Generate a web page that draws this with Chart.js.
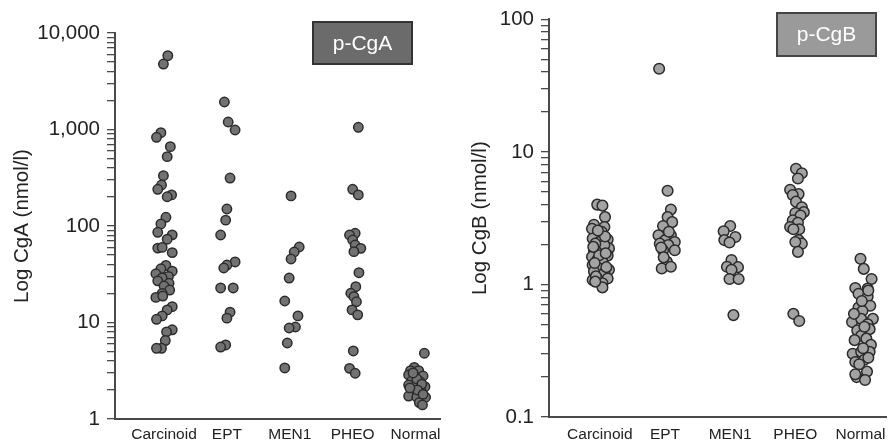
<!DOCTYPE html>
<html>
<head>
<meta charset="utf-8">
<script src="https://cdn.jsdelivr.net/npm/chart.js@4.4.0/dist/chart.umd.min.js"></script>
<style>
  html, body { margin: 0; padding: 0; background: #fff; }
  #wrap { position: relative; width: 894px; height: 446px; }
  .panel { position: absolute; top: 0; width: 447px; height: 446px; }
  #pA { left: 0; }
  #pB { left: 447px; }
</style>
</head>
<body>
<div id="wrap">
  <div class="panel" id="pA"><canvas id="cA" width="447" height="446"></canvas></div>
  <div class="panel" id="pB"><canvas id="cB" width="447" height="446"></canvas></div>
</div>
<script>
// ---------- categories & tick labels ----------
const categories = ['Carcinoid', 'EPT', 'MEN1', 'PHEO', 'Normal'];
const cgaTickValues = [1, 10, 100, 1000, 10000];
const cgaTickLabels = ['1', '10', '100', '1,000', '10,000'];
const cgbTickValues = [0.1, 1, 10, 100];
const cgbTickLabels = ['0.1', '1', '10', '100'];

// ---------- p-CgA (nmol/l) values and horizontal jitter (in category units) ----------
const cgaCarcinoid = [5820, 4770, 927, 830, 664, 523, 332, 266, 240, 210, 201, 123, 105, 86, 81, 73, 59, 60, 53, 39, 36, 34, 32, 30, 29, 27, 25.5, 23.9, 21.7, 20, 18.2, 18.8, 14.6, 13.5, 11.7, 10.8, 8.4, 8.0, 6.5, 5.4, 5.4];
const cgaCarcinoidJitter = [0.06, -0.01, -0.05, -0.12, 0.10, 0.05, -0.01, -0.04, -0.10, 0.12, 0.05, 0.03, -0.05, -0.10, 0.13, 0.05, -0.10, -0.03, 0.13, 0.03, -0.05, 0.13, -0.13, 0.07, -0.03, -0.10, 0.08, 0.00, 0.09, -0.03, -0.13, -0.02, 0.13, 0.05, -0.03, -0.12, 0.13, 0.04, 0.02, -0.04, -0.12];
const cgaEPT = [1928, 1196, 988, 314, 150, 115, 80.7, 42.4, 39.4, 36.7, 22.8, 22.8, 12.8, 11.1, 5.85, 5.57];
const cgaEPTJitter = [-0.04, 0.02, 0.13, 0.05, 0.00, -0.02, -0.10, 0.13, 0.00, -0.05, -0.10, 0.10, 0.05, 0.00, -0.02, -0.10];
const cgaMEN1 = [205, 60.6, 53.8, 45.5, 28.9, 16.7, 11.7, 8.98, 8.77, 6.13, 3.38];
const cgaMEN1Jitter = [0.02, 0.15, 0.07, 0.02, -0.01, -0.08, 0.13, 0.09, -0.01, -0.04, -0.08];
const cgaPHEO = [1054, 240, 210, 84, 80.7, 71.6, 63.5, 58.7, 54.2, 32.8, 23.5, 20.1, 18.5, 16.4, 13.5, 12.0, 5.07, 3.35, 2.98];
const cgaPHEOJitter = [0.09, 0.00, 0.09, 0.04, -0.05, 0.00, 0.04, 0.13, 0.02, 0.10, 0.05, -0.03, 0.02, 0.06, -0.01, 0.08, 0.01, -0.05, 0.04];
const cgaNormal = [4.8, 3.43, 3.17, 3.17, 2.86, 2.74, 2.79, 2.49, 2.44, 2.25, 2.16, 2.16, 1.96, 1.92, 1.73, 1.68, 1.68, 1.48, 1.40, 2.6, 2.3, 2.0, 1.8, 3.0, 2.1];
const cgaNormalJitter = [0.14, -0.02, -0.08, 0.05, -0.11, 0.00, 0.12, -0.06, 0.07, -0.11, 0.00, 0.15, -0.07, 0.09, -0.11, 0.02, 0.16, 0.06, 0.11, 0.02, 0.10, 0.03, 0.12, -0.04, -0.09];

// ---------- p-CgB (nmol/l) values and jitter ----------
const cgbCarcinoid = [4.0, 3.93, 3.22, 2.82, 2.63, 2.71, 2.49, 2.22, 2.18, 2.09, 1.87, 1.81, 1.76, 1.62, 1.65, 1.53, 1.48, 1.40, 1.32, 1.29, 1.25, 1.22, 1.11, 1.11, 1.02, 0.95, 1.08, 1.66, 1.98, 2.03, 1.15, 1.35, 1.45, 1.72, 1.92, 2.3, 2.55, 1.05];
const cgbCarcinoidJitter = [-0.04, 0.04, 0.08, -0.09, -0.12, 0.07, 0.03, -0.11, 0.12, -0.01, 0.14, -0.09, 0.04, -0.12, 0.12, -0.04, 0.04, -0.11, -0.01, 0.14, -0.09, 0.07, -0.04, 0.12, 0.04, 0.04, -0.11, -0.01, 0.07, -0.07, -0.06, 0.10, -0.08, 0.09, -0.10, 0.08, -0.03, -0.07];
const cgbEPT = [42.4, 5.09, 3.67, 3.22, 2.95, 2.76, 2.35, 2.35, 2.15, 2.09, 2.03, 1.98, 1.81, 1.81, 1.48, 1.32, 1.36, 2.5, 1.9, 1.6];
const cgbEPTJitter = [-0.09, 0.04, 0.09, 0.04, 0.11, -0.03, -0.10, 0.09, 0.00, 0.15, -0.08, 0.05, 0.15, -0.03, 0.03, -0.05, 0.09, 0.06, -0.06, -0.02];
const cgbMEN1 = [2.76, 2.52, 2.28, 2.16, 2.07, 1.53, 1.36, 1.35, 1.29, 1.10, 1.10, 0.587];
const cgbMEN1Jitter = [0.00, -0.10, 0.08, -0.09, -0.01, 0.02, -0.05, 0.12, 0.02, -0.01, 0.13, 0.05];
const cgbPHEO = [7.46, 6.89, 6.29, 5.18, 4.80, 4.72, 4.21, 3.82, 3.51, 3.46, 3.31, 3.04, 2.92, 2.71, 2.61, 2.61, 2.16, 2.03, 2.09, 1.76, 0.60, 0.53];
const cgbPHEOJitter = [0.01, 0.10, 0.04, -0.08, 0.05, -0.04, 0.01, 0.10, 0.13, 0.00, 0.08, -0.04, 0.04, -0.08, 0.06, -0.03, 0.05, 0.10, 0.00, 0.04, -0.03, 0.06];
const cgbNormal = [1.56, 1.31, 1.10, 0.94, 0.93, 0.85, 0.81, 0.69, 0.67, 0.63, 0.52, 0.55, 0.55, 0.50, 0.45, 0.46, 0.41, 0.38, 0.39, 0.35, 0.30, 0.31, 0.31, 0.26, 0.27, 0.25, 0.22, 0.20, 0.19, 0.90, 0.75, 0.60, 0.48, 0.33, 0.28, 0.21];
const cgbNormalJitter = [0.00, 0.05, 0.17, -0.08, 0.11, -0.03, 0.11, 0.15, -0.03, 0.03, -0.13, 0.01, 0.19, 0.11, -0.05, 0.14, 0.01, -0.09, 0.09, 0.16, -0.12, 0.01, 0.14, -0.08, 0.06, -0.02, 0.10, -0.06, 0.07, 0.12, 0.02, -0.10, 0.06, 0.04, 0.12, -0.08];

// ---------- helpers ----------
Chart.defaults.font.family = '"Liberation Sans", Arial, Helvetica, sans-serif';
Chart.defaults.color = '#222';

function pts(vals, jit, idx) {
  return vals.map((v, i) => ({ x: idx + jit[i], y: v }));
}
function logTicks(majors) {
  const out = [];
  for (let k = 0; k < majors.length; k++) {
    out.push({ value: majors[k], major: true });
    if (k < majors.length - 1) {
      for (let m = 2; m <= 9; m++) out.push({ value: +(majors[k] * m).toPrecision(6), major: false });
    }
  }
  return out;
}

const boxPlugin = {
  id: 'labelBox',
  afterDraw(chart, args, o) {
    const ctx = chart.ctx;
    ctx.save();
    ctx.fillStyle = o.fill;
    ctx.fillRect(o.x, o.y, o.w, o.h);
    ctx.strokeStyle = o.stroke;
    ctx.lineWidth = 2;
    ctx.strokeRect(o.x, o.y, o.w, o.h);
    ctx.fillStyle = '#fff';
    ctx.font = '21px "Liberation Sans", Arial, sans-serif';
    ctx.textAlign = 'center';
    ctx.textBaseline = 'middle';
    ctx.fillText(o.text, o.x + o.w / 2, o.y + o.h / 2 + 1);
    ctx.restore();
  }
};

function makeChart(canvasId, cfg) {
  const datasets = cfg.series.map((s, i) => ({
    label: categories[i],
    data: pts(s[0], s[1], i),
    backgroundColor: cfg.fill,
    borderColor: '#2b2b2b',
    borderWidth: 1.5,
    pointRadius: cfg.radius,
    pointHoverRadius: cfg.radius
  }));
  return new Chart(document.getElementById(canvasId), {
    type: 'scatter',
    data: { datasets },
    plugins: [boxPlugin],
    options: {
      responsive: false,
      animation: false,
      devicePixelRatio: 1,
      layout: { padding: { top: cfg.top, right: 0, bottom: 0, left: 0 } },
      plugins: {
        legend: { display: false },
        tooltip: { enabled: false },
        labelBox: cfg.box
      },
      scales: {
        x: {
          type: 'linear',
          min: -0.78,
          max: 4.4,
          grid: { display: false, drawTicks: false },
          border: { display: true, color: '#4a4a4a', width: 2 },
          afterBuildTicks: (s) => { s.ticks = categories.map((c, i) => ({ value: i })); },
          afterFit: (s) => { s.height = cfg.xHeight; },
          ticks: {
            autoSkip: false,
            maxRotation: 0,
            padding: cfg.xPad,
            color: '#222',
            font: { size: 15.5 },
            callback: (v) => categories[Math.round(v)]
          }
        },
        y: {
          type: 'logarithmic',
          min: cfg.tickValues[0],
          max: cfg.tickValues[cfg.tickValues.length - 1],
          grid: { drawOnChartArea: false, drawTicks: true, tickLength: 8, color: '#4a4a4a', lineWidth: 1.3 },
          border: { display: true, color: '#4a4a4a', width: 2 },
          afterBuildTicks: (s) => { s.ticks = logTicks(cfg.tickValues); },
          afterFit: (s) => { s.width = cfg.yWidth; },
          title: {
            display: true,
            text: cfg.title,
            color: '#222',
            font: { size: 20.5 },
            padding: { top: cfg.titlePad, bottom: 0 }
          },
          ticks: {
            autoSkip: false,
            padding: 7,
            color: '#222',
            font: { size: 20.5 },
            callback: (v) => {
              const k = cfg.tickValues.findIndex(t => Math.abs(t - v) < t * 1e-6);
              return k >= 0 ? cfg.tickLabels[k] : '';
            }
          }
        }
      }
    }
  });
}

makeChart('cA', {
  series: [[cgaCarcinoid, cgaCarcinoidJitter], [cgaEPT, cgaEPTJitter], [cgaMEN1, cgaMEN1Jitter], [cgaPHEO, cgaPHEOJitter], [cgaNormal, cgaNormalJitter]],
  fill: '#727272',
  radius: 4.7,
  top: 33,
  xHeight: 27,
  xPad: 6,
  yWidth: 115,
  titlePad: 10,
  title: 'Log CgA (nmol/l)',
  tickValues: cgaTickValues,
  tickLabels: cgaTickLabels,
  box: { x: 313, y: 22, w: 99, h: 42, fill: '#6b6b6b', stroke: '#333', text: 'p-CgA' }
});

makeChart('cB', {
  series: [[cgbCarcinoid, cgbCarcinoidJitter], [cgbEPT, cgbEPTJitter], [cgbMEN1, cgbMEN1Jitter], [cgbPHEO, cgbPHEOJitter], [cgbNormal, cgbNormalJitter]],
  fill: '#a3a3a3',
  radius: 5.3,
  top: 15,
  xHeight: 29,
  xPad: 8,
  yWidth: 102,
  titlePad: 21,
  title: 'Log CgB (nmol/l)',
  tickValues: cgbTickValues,
  tickLabels: cgbTickLabels,
  box: { x: 330, y: 13, w: 99, h: 43, fill: '#9a9a9a', stroke: '#444', text: 'p-CgB' }
});
</script>
</body>
</html>
